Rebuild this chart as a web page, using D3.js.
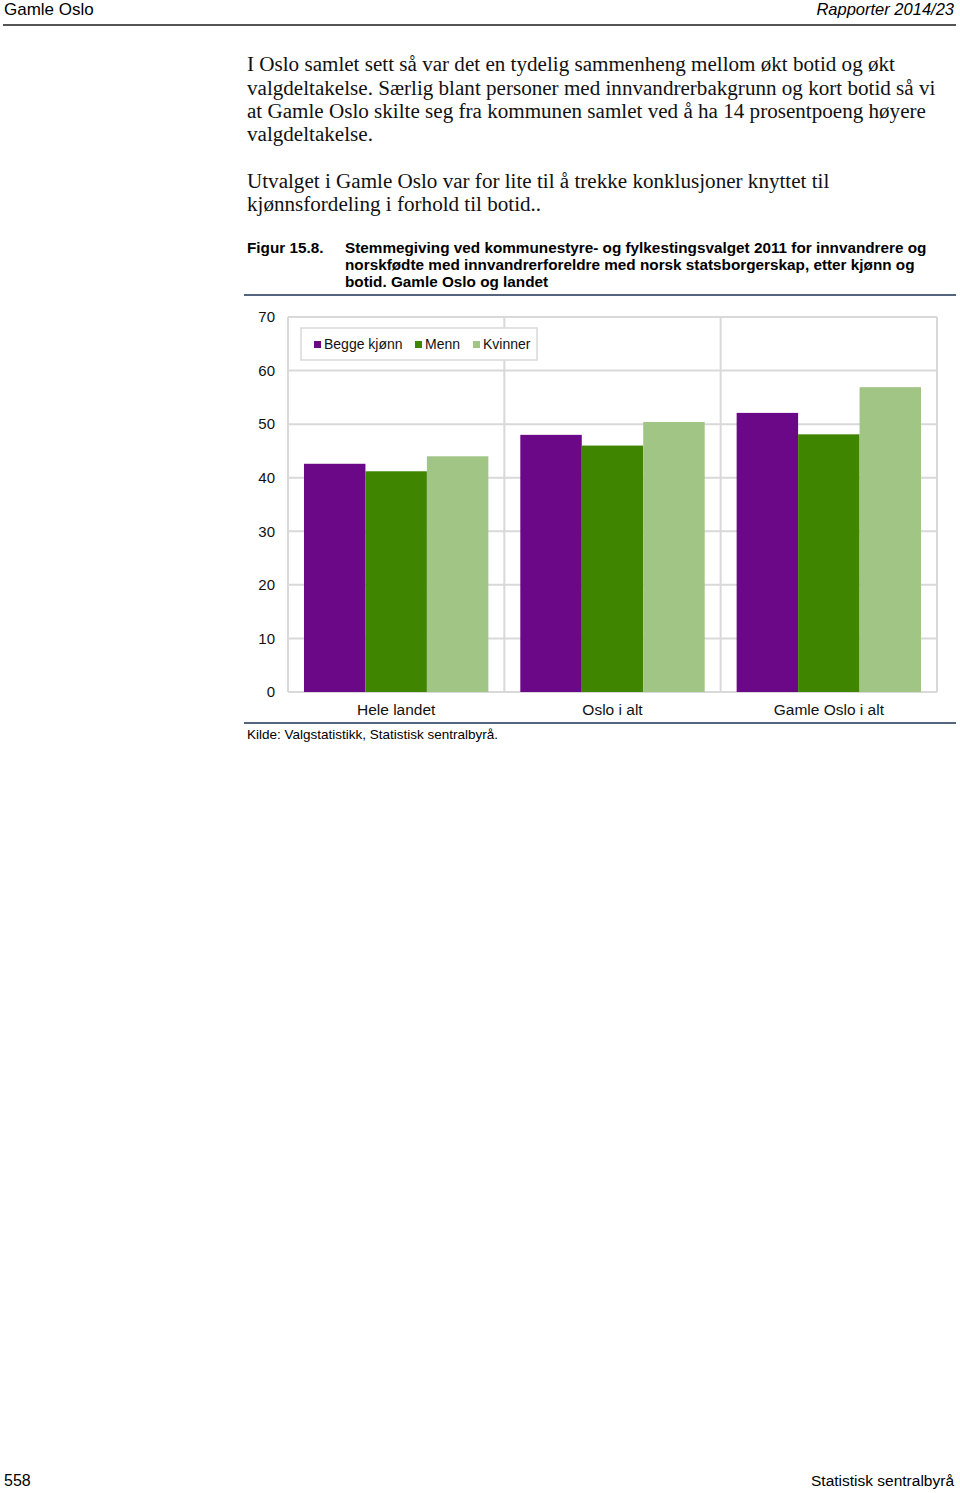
<!DOCTYPE html>
<html><head><meta charset="utf-8">
<script src="https://cdn.jsdelivr.net/npm/d3@7"></script>
<style>body{margin:0;background:#fff}svg{display:block}</style>
</head><body>
<script>
const categories = ["Hele landet", "Oslo i alt", "Gamle Oslo i alt"];
const seriesNames = ["Begge kjønn", "Menn", "Kvinner"];
const beggeKjonn = [42.6, 48.0, 52.1];
const menn = [41.2, 46.0, 48.1];
const kvinner = [44.0, 50.4, 56.9];
const yTicks = [0, 10, 20, 30, 40, 50, 60, 70];
const colors = ["#6a0888", "#3f8500", "#a0c585"];

(function () {
const W = 960, H = 1493;
const svg = d3.select("body").append("svg").attr("width", W).attr("height", H);
const sans = "Liberation Sans, Arial, sans-serif";
const serif = "Liberation Serif, Times New Roman, serif";

// header
svg.append("text").attr("x", 4).attr("y", 15).attr("font-family", sans).attr("font-size", 17).text("Gamle Oslo");
svg.append("text").attr("x", 954).attr("y", 15).attr("text-anchor", "end").attr("font-family", sans).attr("font-style", "italic").attr("font-size", 16.5).text("Rapporter 2014/23");
svg.append("rect").attr("x", 3).attr("y", 24).attr("width", 953).attr("height", 2).attr("fill", "#555");

// body text
const body = [
  [71, "I Oslo samlet sett så var det en tydelig sammenheng mellom økt botid og økt"],
  [95, "valgdeltakelse. Særlig blant personer med innvandrerbakgrunn og kort botid så vi"],
  [118, "at Gamle Oslo skilte seg fra kommunen samlet ved å ha 14 prosentpoeng høyere"],
  [141, "valgdeltakelse."],
  [188, "Utvalget i Gamle Oslo var for lite til å trekke konklusjoner knyttet til"],
  [211, "kjønnsfordeling i forhold til botid.."]
];
body.forEach(([yy, t]) => svg.append("text").attr("x", 247).attr("y", yy).attr("font-family", serif).attr("font-size", 21.1).attr("fill", "#111").text(t));

// caption
svg.append("text").attr("x", 247).attr("y", 253).attr("font-family", sans).attr("font-weight", "bold").attr("font-size", 15.3).text("Figur 15.8.");
["Stemmegiving ved kommunestyre- og fylkestingsvalget 2011 for innvandrere og",
 "norskfødte med innvandrerforeldre med norsk statsborgerskap, etter kjønn og",
 "botid. Gamle Oslo og landet"].forEach((t, i) =>
  svg.append("text").attr("x", 345).attr("y", 253 + i * 17).attr("font-family", sans).attr("font-weight", "bold").attr("font-size", 15.3).text(t));
svg.append("rect").attr("x", 244).attr("y", 294).attr("width", 712).attr("height", 2).attr("fill", "#56657f");
svg.append("rect").attr("x", 244).attr("y", 722).attr("width", 712).attr("height", 2).attr("fill", "#56657f");
svg.append("text").attr("x", 247).attr("y", 739).attr("font-family", sans).attr("font-size", 13.5).text("Kilde: Valgstatistikk, Statistisk sentralbyrå.");

// chart
const pLeft = 288, pRight = 937, pTop = 317, pBottom = 692;
const x = d3.scaleBand().domain(categories).range([pLeft, pRight]).paddingInner(0).paddingOuter(0);
const y = d3.scaleLinear().domain([0, 70]).range([pBottom, pTop]);
const inner = d3.scaleBand().domain(seriesNames).range([0, x.bandwidth()]).paddingInner(0).paddingOuter(0.26);

const g = svg.append("g");
g.selectAll("line.h").data(yTicks).join("line").attr("class", "h").attr("x1", pLeft).attr("x2", pRight)
  .attr("y1", d => y(d)).attr("y2", d => y(d)).attr("stroke", "#d9d9d9").attr("stroke-width", 2);
const vx = categories.map(c => x(c)).concat([pRight]);
g.selectAll("line.v").data(vx).join("line").attr("class", "v").attr("x1", d => d).attr("x2", d => d)
  .attr("y1", pTop).attr("y2", pBottom).attr("stroke", "#d9d9d9").attr("stroke-width", 2);

const yAxis = d3.axisLeft(y).tickValues(yTicks).tickSize(0).tickPadding(13);
const ya = svg.append("g").attr("transform", `translate(${pLeft},0)`).call(yAxis);
ya.select(".domain").remove();
ya.selectAll("text").attr("font-family", sans).attr("font-size", 15).attr("fill", "#111");

const data = [beggeKjonn, menn, kvinner];
seriesNames.forEach((s, si) => {
  g.selectAll("rect.s" + si).data(categories).join("rect").attr("class", "s" + si)
    .attr("x", c => x(c) + inner(s)).attr("width", inner.bandwidth())
    .attr("y", (c, i) => y(data[si][i])).attr("height", (c, i) => pBottom - y(data[si][i]))
    .attr("fill", colors[si]);
});

const xAxis = d3.axisBottom(x).tickSize(0).tickPadding(12);
const xa = svg.append("g").attr("transform", `translate(0,${pBottom})`).call(xAxis);
xa.select(".domain").remove();
xa.selectAll("text").attr("font-family", sans).attr("font-size", 15.5).attr("fill", "#111");

const lg = svg.append("g");
lg.append("rect").attr("x", 301).attr("y", 328).attr("width", 236).attr("height", 32).attr("fill", "#fff").attr("stroke", "#d9d9d9").attr("stroke-width", 1.5);
const lx = [314, 415, 473];
seriesNames.forEach((s, i) => {
  lg.append("rect").attr("x", lx[i]).attr("y", 341).attr("width", 7).attr("height", 7).attr("fill", colors[i]);
  lg.append("text").attr("x", lx[i] + 10).attr("y", 349).attr("font-family", sans).attr("font-size", 14).attr("fill", "#111").text(s);
});

svg.append("text").attr("x", 4).attr("y", 1486).attr("font-family", sans).attr("font-size", 16).text("558");
svg.append("text").attr("x", 954).attr("y", 1486).attr("text-anchor", "end").attr("font-family", sans).attr("font-size", 15.5).text("Statistisk sentralbyrå");
})();
</script>
</body></html>
